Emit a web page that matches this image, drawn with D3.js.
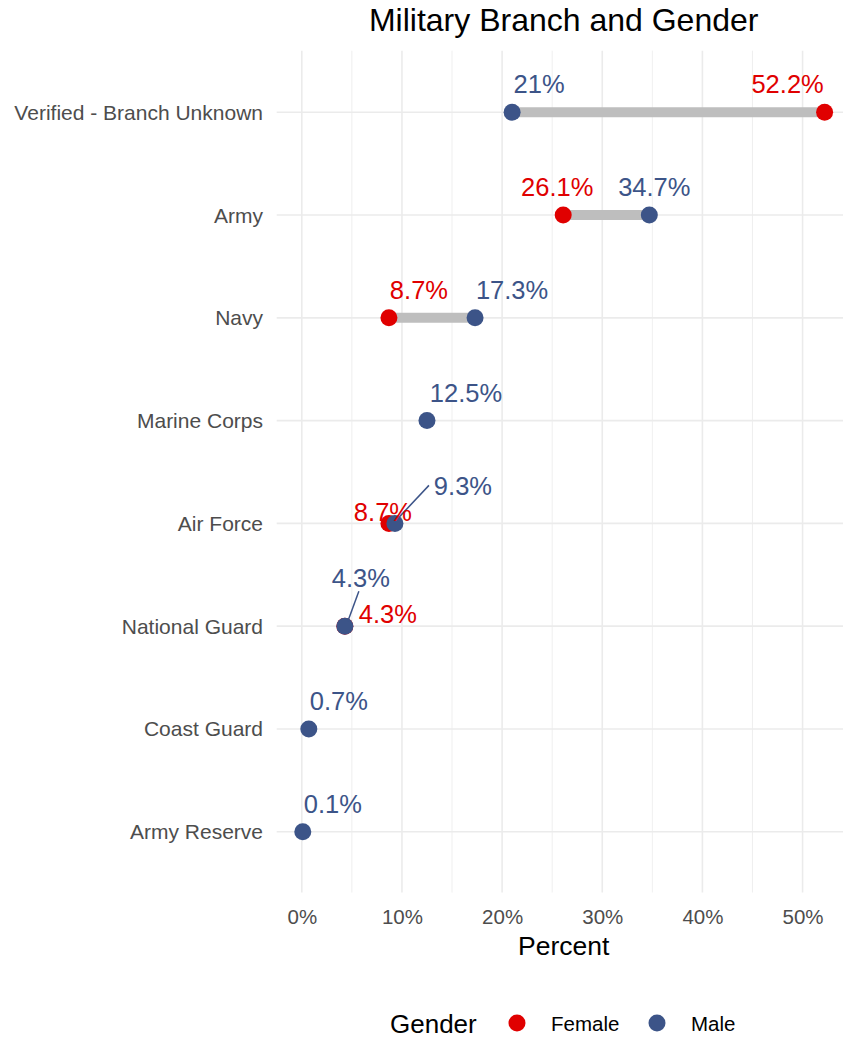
<!DOCTYPE html>
<html>
<head>
<meta charset="utf-8">
<script src="https://cdn.jsdelivr.net/npm/d3@7"></script>
<style>
  html, body { margin: 0; padding: 0; background: #fff; }
  text { font-family: "Liberation Sans", Arial, sans-serif; }
</style>
</head>
<body>
<svg id="chart" width="843" height="1037"></svg>
<script>
// ---- data ----
const categories = ["Verified - Branch Unknown", "Army", "Navy", "Marine Corps",
                    "Air Force", "National Guard", "Coast Guard", "Army Reserve"];
const female = [52.2, 26.1, 8.7, null, 8.7, 4.3, null, null];
const male   = [21, 34.7, 17.3, 12.5, 9.3, 4.3, 0.7, 0.1];
const xTicks = [0, 10, 20, 30, 40, 50];
const xMinor = [5, 15, 25, 35, 45];
const genders = ["Female", "Male"];

// label placement (repel-style offsets, in px from point)
const femaleLabelOffset = [[-37,-28],[-6,-28],[30,-28],null,[-6,-12],[43,-12],null,null];
const maleLabelOffset   = [[27,-28],[5,-28],[37,-28],[39,-28],[68,-38],[16,-48],[30,-28],[30,-28]];
// leader line end (px from point) for repelled labels
const maleLeaderEnd     = [null,null,null,null,[34,-38],[14,-35],null,null];

const colors = { Female: "#E00000", Male: "#3C5488" };

const svg = d3.select("#chart");
const panel = { left: 276.7, right: 850.7, top: 50.7, bottom: 892.5 };

const x = d3.scaleLinear().domain([-2.505, 54.805]).range([panel.left, panel.right]);
const y = d3.scalePoint().domain(categories).range([112.3, 831.7]);

const g = svg.append("g");

// grid
g.selectAll(".minor").data(xMinor).join("line")
  .attr("x1", d => x(d)).attr("x2", d => x(d))
  .attr("y1", panel.top).attr("y2", panel.bottom)
  .attr("stroke", "#ebebeb").attr("stroke-width", 0.8);
g.selectAll(".major").data(xTicks).join("line")
  .attr("x1", d => x(d)).attr("x2", d => x(d))
  .attr("y1", panel.top).attr("y2", panel.bottom)
  .attr("stroke", "#ebebeb").attr("stroke-width", 1.6);
g.selectAll(".hmajor").data(categories).join("line")
  .attr("x1", panel.left).attr("x2", 843)
  .attr("y1", d => y(d)).attr("y2", d => y(d))
  .attr("stroke", "#ebebeb").attr("stroke-width", 1.6);

// segments
const rows = categories.map((c, i) => ({ c, i, f: female[i], m: male[i] }));
g.selectAll(".seg").data(rows.filter(r => r.f != null && r.m != null && r.f !== r.m)).join("line")
  .attr("x1", d => x(d.f)).attr("x2", d => x(d.m))
  .attr("y1", d => y(d.c)).attr("y2", d => y(d.c))
  .attr("stroke", "#bebebe").attr("stroke-width", 10);

// points
const r = 8.5;
g.selectAll(".pf").data(rows.filter(d => d.f != null)).join("circle")
  .attr("cx", d => x(d.f)).attr("cy", d => y(d.c)).attr("r", r)
  .attr("fill", colors.Female);
g.selectAll(".pm").data(rows.filter(d => d.m != null)).join("circle")
  .attr("cx", d => x(d.m)).attr("cy", d => y(d.c)).attr("r", r)
  .attr("fill", colors.Male);

// leader lines
g.selectAll(".lead").data(rows.filter(d => maleLeaderEnd[d.i])).join("line")
  .attr("x1", d => x(d.m) + 3)
  .attr("y1", d => y(d.c) - 5)
  .attr("x2", d => x(d.m) + maleLeaderEnd[d.i][0])
  .attr("y2", d => y(d.c) + maleLeaderEnd[d.i][1])
  .attr("stroke", colors.Male).attr("stroke-width", 1.5);

// labels
const fmt = v => `${v}%`;
g.selectAll(".lf").data(rows.filter(d => d.f != null)).join("text")
  .attr("x", d => x(d.f) + femaleLabelOffset[d.i][0])
  .attr("y", d => y(d.c) + femaleLabelOffset[d.i][1])
  .attr("dy", "0.36em").attr("text-anchor", "middle")
  .attr("font-size", 25.5).attr("fill", colors.Female)
  .text(d => fmt(d.f));
g.selectAll(".lm").data(rows.filter(d => d.m != null)).join("text")
  .attr("x", d => x(d.m) + maleLabelOffset[d.i][0])
  .attr("y", d => y(d.c) + maleLabelOffset[d.i][1])
  .attr("dy", "0.36em").attr("text-anchor", "middle")
  .attr("font-size", 25.5).attr("fill", colors.Male)
  .text(d => fmt(d.m));

// y axis labels
svg.append("g").selectAll("text").data(categories).join("text")
  .attr("x", 263).attr("y", d => y(d)).attr("dy", "0.36em")
  .attr("text-anchor", "end").attr("font-size", 21).attr("fill", "#4d4d4d")
  .text(d => d);

// x axis via d3 axis
const xAxis = d3.axisBottom(x).tickValues(xTicks).tickFormat(d => d + "%").tickSize(0).tickPadding(0);
const ax = svg.append("g").attr("transform", `translate(0, ${panel.bottom})`).call(xAxis);
ax.select(".domain").remove();
ax.selectAll("text").attr("font-size", 20.5).attr("fill", "#4d4d4d")
  .attr("font-family", "Liberation Sans, Arial, sans-serif")
  .attr("dy", null).attr("y", 31);

// axis title
svg.append("text").attr("x", (panel.left + panel.right) / 2).attr("y", 955)
  .attr("text-anchor", "middle").attr("font-size", 26.5).attr("fill", "#000").text("Percent");

// title
svg.append("text").attr("x", (panel.left + panel.right) / 2).attr("y", 31)
  .attr("text-anchor", "middle").attr("font-size", 32).attr("fill", "#000")
  .text("Military Branch and Gender");

// legend
const lg = svg.append("g");
lg.append("text").attr("x", 390).attr("y", 1024).attr("dy", "0.34em")
  .attr("font-size", 26).attr("fill", "#000").text("Gender");
const legX = [517, 657];
genders.forEach((gname, i) => {
  lg.append("circle").attr("cx", legX[i]).attr("cy", 1023).attr("r", r).attr("fill", colors[gname]);
  lg.append("text").attr("x", legX[i] + 34).attr("y", 1024).attr("dy", "0.36em")
    .attr("font-size", 20.5).attr("fill", "#000").text(gname);
});
</script>
</body>
</html>
